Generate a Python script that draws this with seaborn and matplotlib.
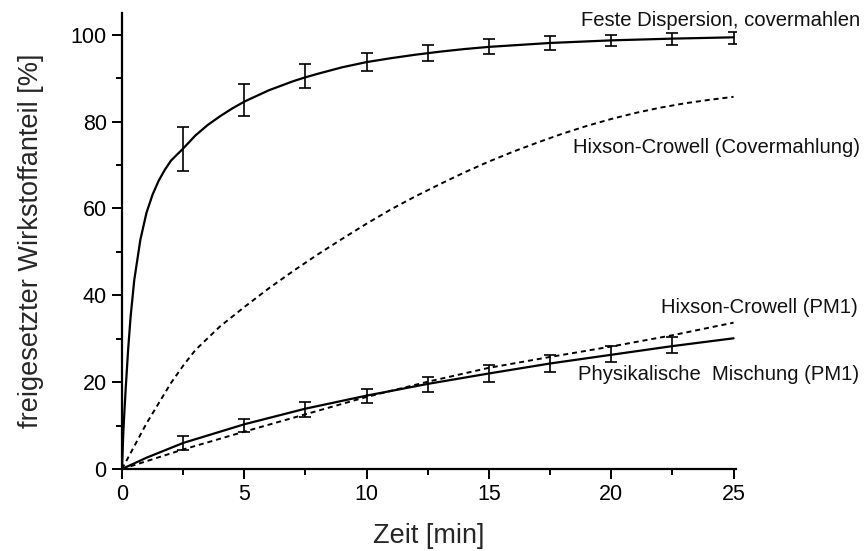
import matplotlib
matplotlib.use("Agg")
import matplotlib.pyplot as plt
import seaborn as sns
from matplotlib.ticker import MultipleLocator

# ---------------- data ----------------
# Feste Dispersion, covermahlen: measured means + error bars
fd_t = [2.5, 5, 7.5, 10, 12.5, 15, 17.5, 20, 22.5, 25]
fd_mean = [73.7, 85.0, 90.5, 93.7, 95.7, 97.3, 98.1, 98.7, 99.0, 99.3]
fd_err = [5.0, 3.65, 2.75, 2.05, 1.85, 1.7, 1.55, 1.35, 1.35, 1.4]
# fitted curve (solid)
fd_fit_t = [0, 0.05, 0.1, 0.15, 0.25, 0.35, 0.5, 0.75, 1.0, 1.25, 1.5, 1.75,
            2.0, 2.5, 3.0, 3.5, 4.0, 4.5, 5, 6, 7, 7.5, 8, 9, 10, 11, 12, 13,
            14, 15, 17.5, 20, 22.5, 25]
fd_fit_v = [0, 8, 13.5, 18.5, 27.5, 35, 43.5, 52.8, 59.0, 63.2, 66.4, 68.9,
            71.0, 73.8, 76.8, 79.2, 81.2, 83.0, 84.6, 87.2, 89.3, 90.2, 91.0,
            92.5, 93.7, 94.6, 95.4, 96.1, 96.7, 97.2, 98.1, 98.7, 99.1, 99.4]

# Hixson-Crowell (Covermahlung) (dashed)
hc_cov_t = [0, 1, 2, 2.5, 3, 4, 5, 6, 7, 8, 9, 10, 11, 12, 13, 14, 15, 16,
            17, 18, 19, 20, 21, 22, 23, 24, 25]
hc_cov_v = [0, 10.5, 19.8, 23.8, 27.4, 32.8, 37.3, 41.6, 45.6, 49.4, 53.0,
            56.5, 59.8, 62.8, 65.6, 68.3, 70.8, 73.1, 75.2, 77.2, 79.0, 80.6,
            82.0, 83.2, 84.2, 85.0, 85.7]

# Physikalische Mischung (PM1): measured means + error bars
pm_t = [2.5, 5, 7.5, 10, 12.5, 15, 17.5, 20, 22.5]
pm_mean = [5.9, 10.1, 13.75, 16.8, 19.5, 22.0, 24.3, 26.4, 28.6]
pm_err = [1.6, 1.5, 1.7, 1.7, 1.7, 1.85, 1.9, 1.85, 1.9]
# fitted curve (solid)
pm_fit_t = [0, 1, 2.5, 5, 7.5, 10, 12.5, 15, 17.5, 20, 22.5, 25]
pm_fit_v = [0, 2.6, 6.0, 10.3, 13.9, 16.9, 19.6, 22.0, 24.3, 26.3, 28.3, 30.1]

# Hixson-Crowell (PM1) (dashed)
hc_pm_t = [0, 2.5, 5, 7.5, 10, 12.5, 15, 17.5, 20, 22.5, 25]
hc_pm_v = [0, 4.5, 8.6, 12.6, 16.6, 20.1, 23.3, 25.8, 28.2, 30.8, 33.7]

# annotations
labels = ["Feste Dispersion, covermahlen", "Hixson-Crowell (Covermahlung)",
          "Hixson-Crowell (PM1)", "Physikalische  Mischung (PM1)"]
label_x = [18.76, 18.44, 22.04, 18.62]
label_y = [103.2, 74.0, 37.1, 21.7]

x_title = "Zeit [min]"
y_title = "freigesetzter Wirkstoffanteil [%]"

# ---------------- plot ----------------
sns.set_style("ticks")
plt.rcParams["font.family"] = ["Liberation Sans", "DejaVu Sans"]

fig = plt.figure(figsize=(8.66, 5.51), dpi=100)
ax = fig.add_axes([0.1409, 0.1488, 0.709, 0.8276])

lw_solid = 1.6
dash = (0, (2.6, 2.0))

sns.lineplot(x=fd_fit_t, y=fd_fit_v, ax=ax, color="black", lw=lw_solid,
             estimator=None, sort=False)
sns.lineplot(x=hc_cov_t, y=hc_cov_v, ax=ax, color="black", lw=1.4,
             linestyle=dash, estimator=None, sort=False)
sns.lineplot(x=pm_fit_t, y=pm_fit_v, ax=ax, color="black", lw=lw_solid,
             estimator=None, sort=False)
sns.lineplot(x=hc_pm_t, y=hc_pm_v, ax=ax, color="black", lw=1.4,
             linestyle=dash, estimator=None, sort=False)

ax.errorbar(fd_t, fd_mean, yerr=fd_err, fmt="none", ecolor="black",
            elinewidth=1.2, capsize=4, capthick=1.2)
ax.errorbar(pm_t, pm_mean, yerr=pm_err, fmt="none", ecolor="black",
            elinewidth=1.2, capsize=4, capthick=1.2)

for txt, tx, ty in zip(labels, label_x, label_y):
    ax.text(tx, ty, txt, fontsize=14.6, color="#111111", ha="left",
            va="center", clip_on=False)

ax.set_xlim(0, 25.1)
ax.set_ylim(0, 105)
ax.xaxis.set_major_locator(MultipleLocator(5))
ax.xaxis.set_minor_locator(MultipleLocator(2.5))
ax.yaxis.set_major_locator(MultipleLocator(20))
ax.yaxis.set_minor_locator(MultipleLocator(10))
ax.set_xticks([0, 5, 10, 15, 20, 25])
ax.set_yticks([0, 20, 40, 60, 80, 100])

ax.tick_params(axis="both", which="major", length=7, width=1.4,
               labelsize=15.5, direction="out", colors="black", pad=4)
ax.tick_params(axis="both", which="minor", length=4.5, width=1.4,
               direction="out", colors="black")

for s in ["top", "right"]:
    ax.spines[s].set_visible(False)
for s in ["left", "bottom"]:
    ax.spines[s].set_linewidth(1.6)
    ax.spines[s].set_color("black")

ax.set_xlabel(x_title, fontsize=19.5, labelpad=13)
ax.set_ylabel(y_title, fontsize=19.5, labelpad=19)

fig.savefig("out.png", dpi=100, facecolor="white")
